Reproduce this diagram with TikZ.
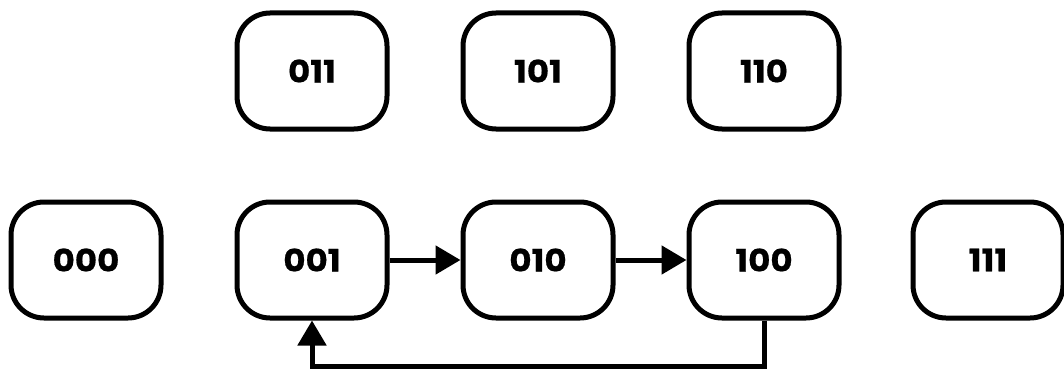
\documentclass[tikz,border=0pt]{standalone}
\usepackage{fontspec}
\setmainfont{Poppins}[BoldFeatures={FakeStretch=1.1,FakeBold=0.6}]
\usetikzlibrary{arrows.meta}
\tikzset{
  state/.style={draw=black, line width=5pt, rounded corners=33pt, minimum width=150pt, minimum height=116pt, inner sep=0pt, font=\fontsize{31}{32}\selectfont\bfseries},
  link/.style={line width=5pt, -{Triangle[width=28pt,length=25pt]}}
}
\begin{document}
\begin{tikzpicture}[x=1pt,y=-1pt]
\useasboundingbox (0,0) rectangle (1064,369);
\node[state] (n011) at (312,71) {011};
\node[state] (n101) at (538,71) {101};
\node[state] (n110) at (764,71) {110};
\node[state] (n000) at (86,260) {000};
\node[state] (n001) at (312,260) {001};
\node[state] (n010) at (538,260) {010};
\node[state] (n100) at (764,260) {100};
\node[state] (n111) at (988,260) {111};
\draw[link] (n001) -- (n010);
\draw[link] (n010) -- (n100);
\coordinate (c1) at (764,366);
\coordinate (c2) at (312,366);
\draw[link] (n100.south) -- (c1) -- (c2) -- (n001.south);
\end{tikzpicture}
\end{document}
